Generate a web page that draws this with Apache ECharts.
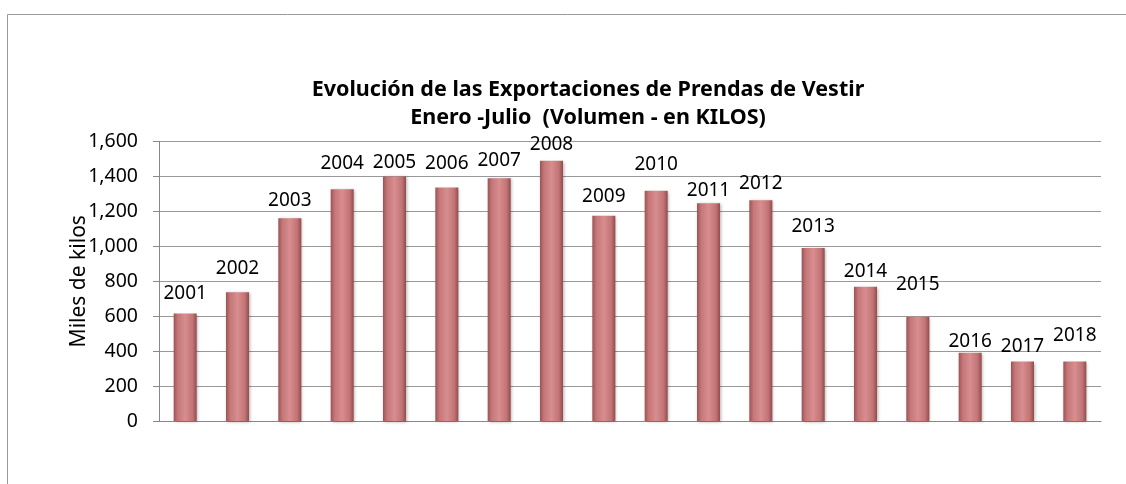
<!DOCTYPE html>
<html>
<head>
<meta charset="utf-8">
<script src="https://cdn.jsdelivr.net/npm/echarts@6/dist/echarts.min.js"></script>
<style>
  html,body{margin:0;padding:0;background:#fff}
  #main{width:1126px;height:484px}
</style>
</head>
<body>
<div id="main"></div>
<script>
// years shown as the data labels
const years=['2001','2002','2003','2004','2005','2006','2007','2008','2009','2010','2011','2012','2013','2014','2015','2016','2017','2018']
// miles de kilos
const kilos=[615,737,1160,1326,1400,1336,1389,1490,1175,1318,1246,1263,990,769,597,391,340,340]
const yTicks=[0,200,400,600,800,1000,1200,1400,1600]
// how far each label sits above its bar (px) - they were hand placed in the original
const labelGap=[10,14,8,16,4,15,8,7,10,17,3,7,12,6,23,2,6,17]

const myChart=echarts.init(document.querySelector('#main'))

const barColor=new echarts.graphic.LinearGradient(0,0,1,0,[
  {offset:0,color:'#9c5355'},
  {offset:0.18,color:'#c57779'},
  {offset:0.5,color:'#d88d8f'},
  {offset:0.82,color:'#c27476'},
  {offset:1,color:'#934b4d'}
])

const option={
  animation:false,
  textStyle:{fontFamily:'Noto Sans'},
  title:{
    text:'Evolución de las Exportaciones de Prendas de Vestir\nEnero -Julio  (Volumen - en KILOS)',
    left:583,
    top:71,
    padding:5,
    textAlign:'center',
    textStyle:{fontSize:21.5,fontWeight:'bold',color:'#000',lineHeight:28,fontFamily:'Noto Sans'}
  },
  graphic:[{
    type:'rect',
    shape:{x:7.5,y:14.5,width:1200,height:600},
    style:{fill:'none',stroke:'#9a9a9a',lineWidth:1}
  }],
  grid:{left:159,right:25,top:141.5,bottom:63},
  xAxis:{
    type:'category',
    data:years,
    axisLine:{lineStyle:{color:'#888'}},
    axisTick:{show:false},
    axisLabel:{show:false}
  },
  yAxis:{
    type:'value',
    min:yTicks[0],
    max:yTicks[yTicks.length-1],
    interval:200,
    name:'Miles de kilos',
    nameLocation:'middle',
    nameGap:69,
    nameMoveOverlap:false,
    nameTextStyle:{fontSize:21,color:'#000'},
    axisLine:{show:true,lineStyle:{color:'#888'}},
    axisTick:{show:true,length:6,lineStyle:{color:'#888'}},
    axisLabel:{
      fontSize:19.5,color:'#000',margin:21,
      formatter:v=>v.toLocaleString('en-US')
    },
    splitLine:{lineStyle:{color:'#999',width:1}}
  },
  series:[{
    type:'bar',
    barWidth:23,
    data:kilos.map((v,i)=>({
      value:v,
      label:{distance:labelGap[i]}
    })),
    itemStyle:{
      color:barColor,
      shadowColor:'rgba(0,0,0,0.3)',
      shadowBlur:3,
      shadowOffsetX:1,
      shadowOffsetY:1
    },
    label:{
      show:true,
      position:'top',
      formatter:'{b}',
      fontSize:19,
      color:'#000'
    }
  }]
}

myChart.setOption(option)
</script>
</body>
</html>
